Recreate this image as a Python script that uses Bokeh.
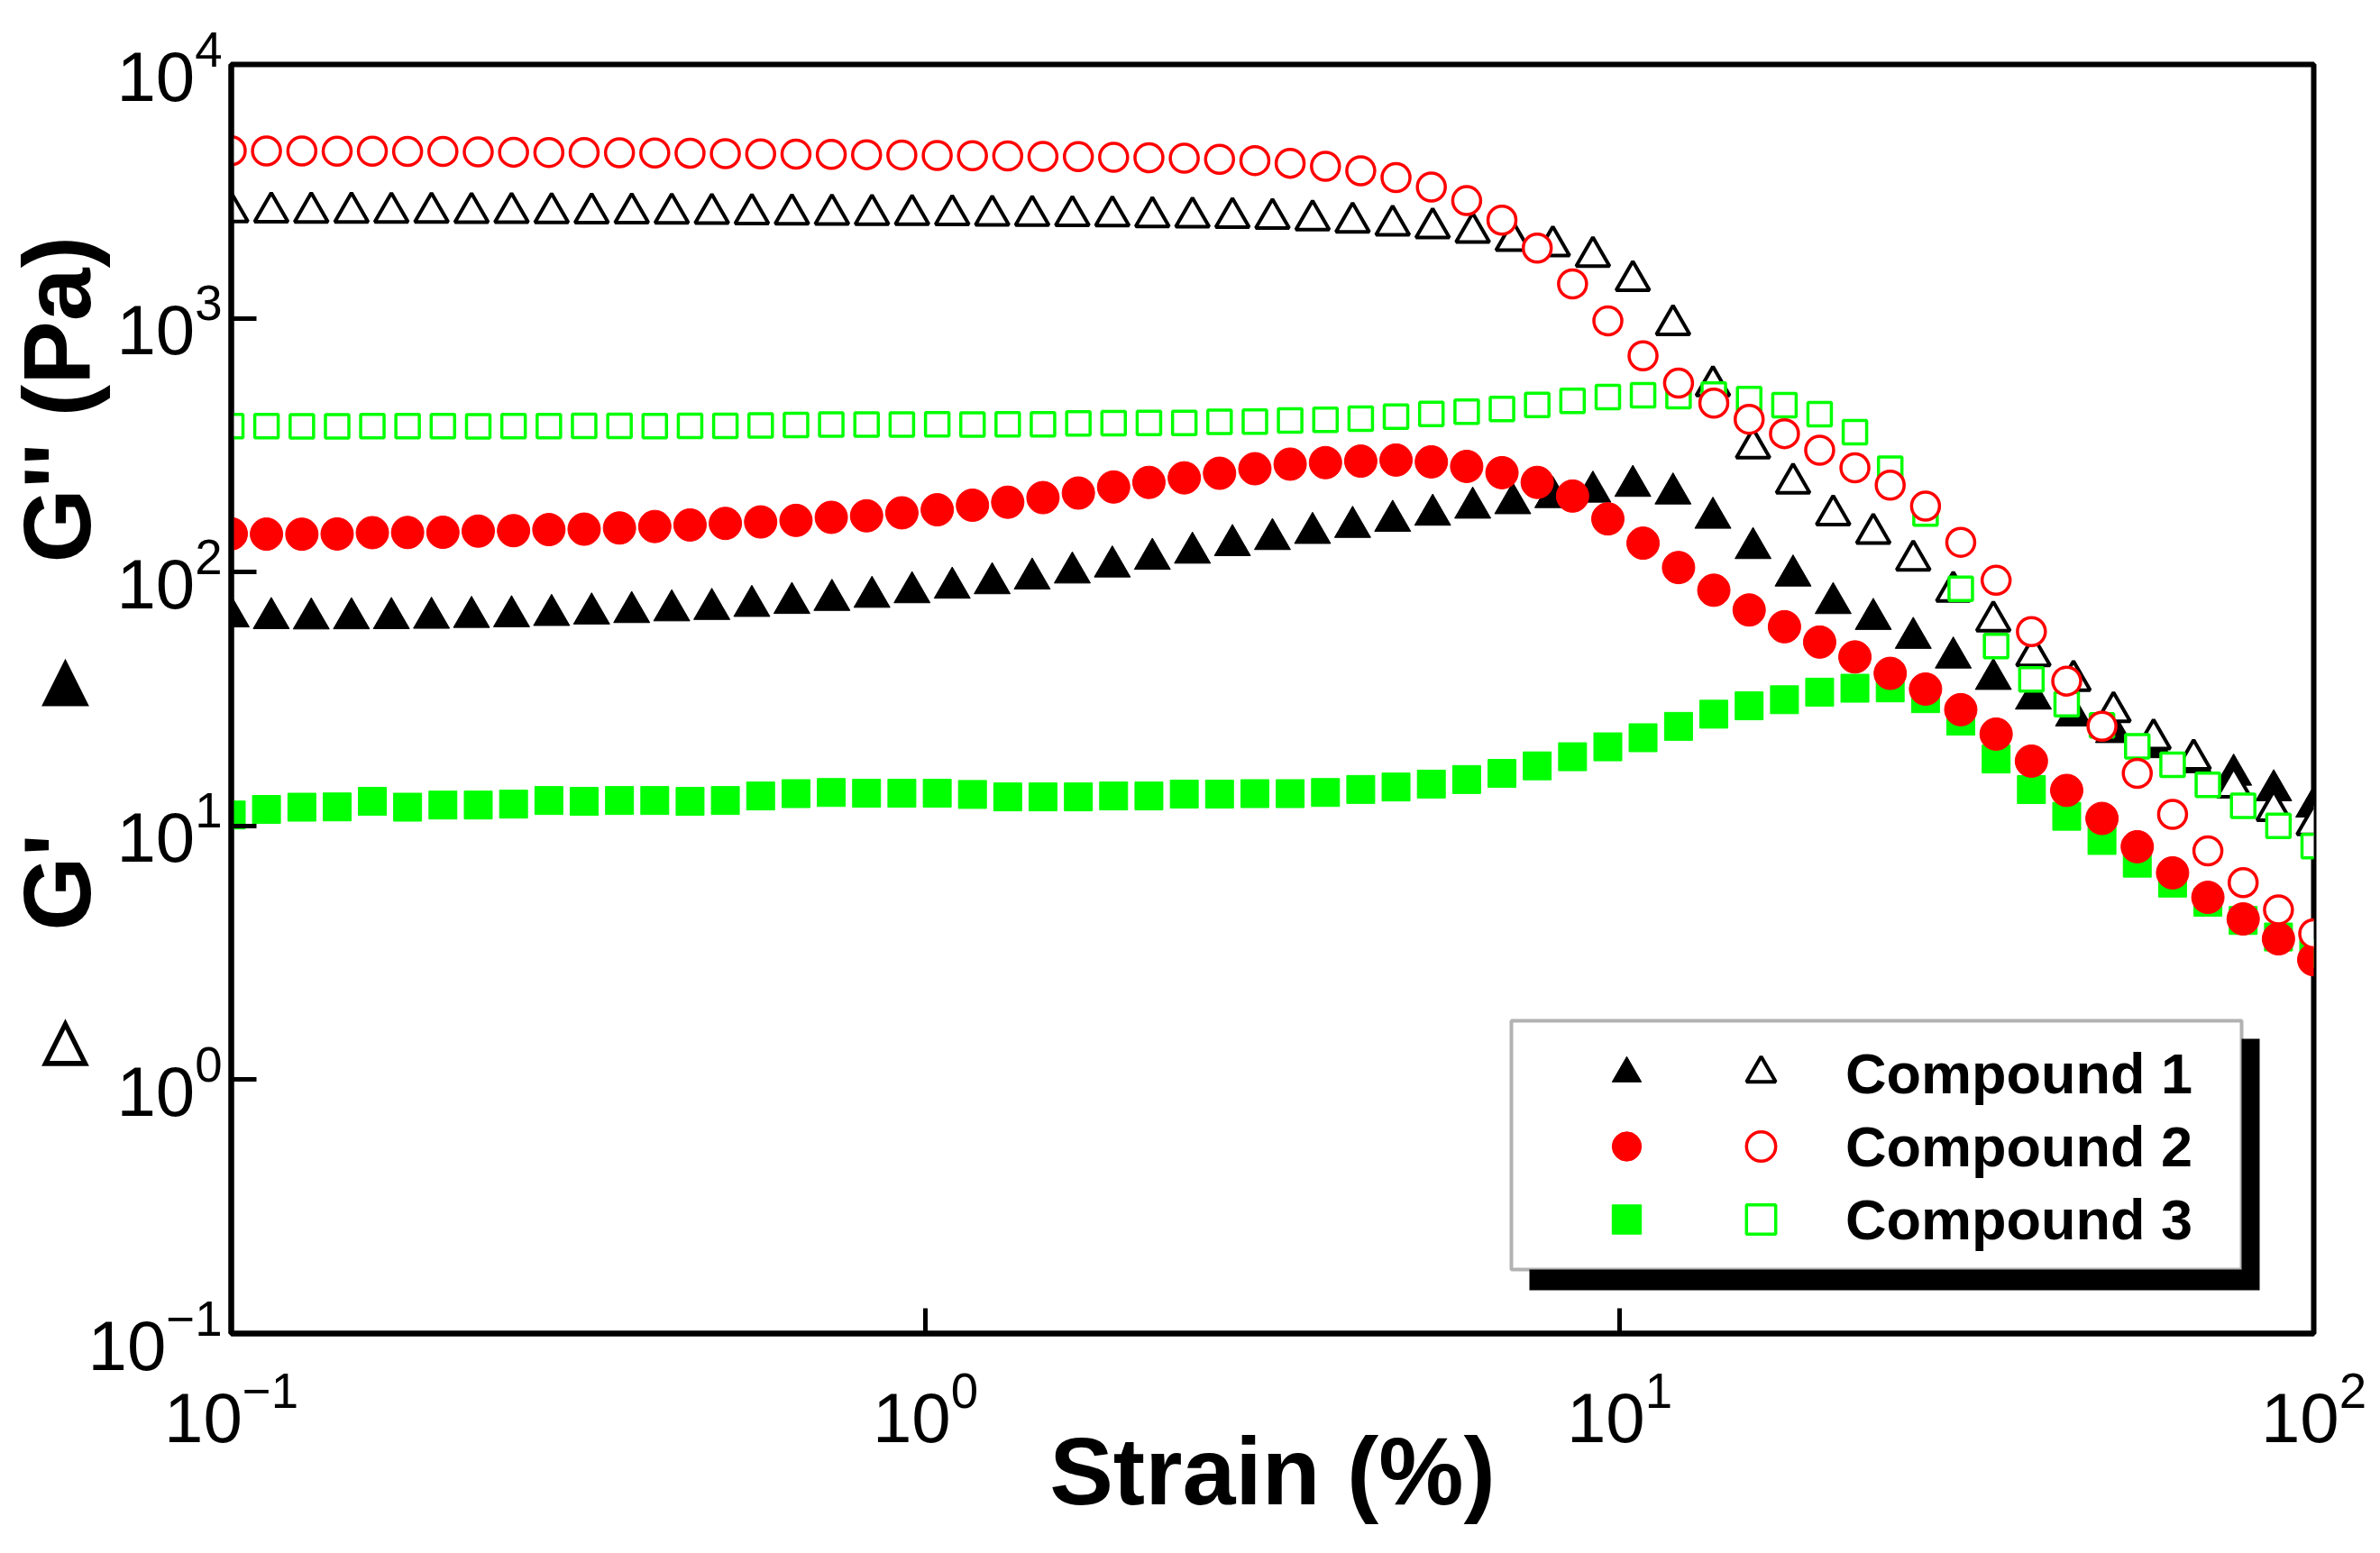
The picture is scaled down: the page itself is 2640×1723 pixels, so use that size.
from bokeh.plotting import figure
from bokeh.models import (Range1d, FixedTicker, LogTickFormatter, Legend, LegendItem,
                          BoxAnnotation)
from bokeh.embed import file_html
from bokeh.resources import INLINE

# strain sweep (%), compound 1 was measured with a coarser point density
strain_c1 = [0.1, 0.1142, 0.1304, 0.149, 0.1701, 0.1943, 0.2219, 0.2534, 0.2894, 0.3305,
             0.3775, 0.4311, 0.4924, 0.5623, 0.6422, 0.7334, 0.8376, 0.9567, 1.093, 1.248,
             1.425, 1.628, 1.859, 2.123, 2.425, 2.769, 3.162, 3.612, 4.125, 4.711,
             5.38, 6.144, 7.017, 8.014, 9.153, 10.45, 11.94, 13.63, 15.57, 17.78,
             20.31, 23.2, 26.49, 30.25, 34.55, 39.46, 45.07, 51.47, 58.78, 67.14,
             76.67, 87.57, 100]
strain_c23 = [0.1, 0.1124, 0.1264, 0.1421, 0.1597, 0.1795, 0.2018, 0.2269, 0.2551, 0.2868,
              0.3224, 0.3625, 0.4075, 0.4581, 0.515, 0.579, 0.651, 0.7318, 0.8227, 0.9249,
              1.04, 1.169, 1.314, 1.477, 1.661, 1.867, 2.099, 2.36, 2.653, 2.983,
              3.353, 3.77, 4.238, 4.764, 5.356, 6.022, 6.77, 7.61, 8.556, 9.619,
              10.81, 12.16, 13.67, 15.37, 17.28, 19.42, 21.83, 24.54, 27.59, 31.01,
              34.87, 39.2, 44.07, 49.54, 55.69, 62.61, 70.39, 79.13, 88.96, 100]

# G' (storage) and G'' (loss) moduli in Pa
g1_storage = [66.8, 65.8, 65.6, 65.7, 65.8, 66.0, 66.5, 66.9, 67.7, 68.6,
              69.5, 70.6, 71.5, 73.5, 75.5, 77.6, 79.8, 83.2, 86.7, 90.3,
              94.2, 99.5, 105.1, 112.7, 119.1, 127.6, 134.8, 142.5, 150.5, 159.1,
              168.1, 179.2, 186.6, 197.2, 207.2, 218.4, 203.8, 163.5, 124.2, 96.8,
              75.4, 65.3, 55.0, 46.0, 37.9, 31.7, 27.2, 23.4, 20.4, 17.8,
              15.9, 13.8, 11.9]
g1_loss = [2626, 2621, 2617, 2617, 2612, 2612, 2607, 2607, 2602, 2598,
           2598, 2593, 2588, 2579, 2574, 2569, 2564, 2559, 2555, 2545,
           2540, 2536, 2531, 2512, 2502, 2493, 2473, 2438, 2388, 2326,
           2270, 2178, 2025, 1929, 1751, 1406, 942, 542, 308, 224,
           168, 142, 111.4, 84.0, 64.1, 46.8, 37.4, 28.2, 22.0, 18.3,
           14.2, 11.5, 10.1]
g2_storage = [141.5, 141.1, 141.0, 141.3, 143.0, 143.2, 143.5, 145.0, 145.6, 147.0,
              147.6, 149.2, 151.2, 153.3, 155.5, 157.6, 159.8, 164.3, 166.6, 171.2,
              176.0, 183.4, 188.5, 196.5, 204.8, 216.4, 225.6, 235.1, 245.1, 255.4,
              266.2, 269.9, 273.6, 276.3, 271.8, 260.8, 246.4, 225.6, 199.3, 162.0,
              130.0, 104.2, 84.8, 70.9, 60.9, 53.0, 46.3, 39.9, 34.6, 28.7,
              23.0, 18.0, 13.8, 10.7, 8.28, 6.53, 5.23, 4.30, 3.59, 2.97]
g2_loss = [4570, 4560, 4560, 4550, 4550, 4540, 4540, 4520, 4510, 4500,
           4500, 4490, 4480, 4470, 4450, 4440, 4430, 4420, 4410, 4400,
           4380, 4370, 4360, 4340, 4330, 4310, 4290, 4270, 4230, 4180,
           4080, 3970, 3810, 3585, 3287, 2907, 2436, 1891, 1366, 977,
           711, 555, 463, 400, 351, 302, 257.5, 220, 182, 131,
           92.8, 58.3, 37.2, 24.7, 16.1, 11.1, 7.97, 5.98, 4.67, 3.76]
g3_storage = [11.04, 11.61, 11.85, 11.88, 12.49, 11.85, 12.08, 12.08, 12.18, 12.59,
              12.49, 12.59, 12.59, 12.49, 12.59, 13.12, 13.40, 13.54, 13.45, 13.45,
              13.45, 13.30, 13.01, 13.01, 13.01, 13.12, 13.12, 13.34, 13.34, 13.40,
              13.40, 13.54, 13.92, 14.23, 14.61, 15.23, 16.10, 17.24, 18.73, 20.49,
              22.25, 24.67, 27.55, 29.72, 31.41, 33.65, 34.87, 34.97, 31.71, 25.86,
              18.34, 13.90, 10.91, 8.76, 7.13, 5.95, 5.00, 4.24, 3.65, 3.14]
g3_loss = [376, 376, 375, 375, 376, 376, 376, 375, 376, 376,
           377, 377, 376, 377, 377, 378, 380, 381, 381, 381,
           382, 381, 382, 382, 385, 386, 387, 387, 391, 392,
           396, 398, 402.5, 409.8, 419.5, 428.2, 439.0, 455.7, 473.0, 489.6,
           497.7, 493.6, 500.5, 480.2, 455.1, 419.0, 355.5, 255.4, 170.0, 85.9,
           51.1, 37.8, 30.2, 24.9, 20.6, 17.4, 14.5, 12.0, 10.0, 8.33]

compounds = ["Compound 1", "Compound 2", "Compound 3"]

RED = "#ff0000"
GREEN = "#00ff00"

p = figure(frame_width=2310, frame_height=1408,
           x_axis_type="log", y_axis_type="log",
           x_range=Range1d(0.1, 100), y_range=Range1d(0.1, 10000),
           min_border_left=256, min_border_right=62, min_border_top=71, min_border_bottom=228,
           output_backend="svg", toolbar_location=None)
p.grid.visible = False
p.background_fill_color = "white"
p.outline_line_color = "black"
p.outline_line_width = 6

p.xaxis.ticker = FixedTicker(ticks=[0.1, 1, 10, 100])
p.yaxis.ticker = FixedTicker(ticks=[0.1, 1, 10, 100, 1000, 10000])
for ax in (p.xaxis[0], p.yaxis[0]):
    ax.formatter = LogTickFormatter()
    ax.axis_line_width = 6
    ax.major_tick_in = 28
    ax.major_tick_out = 0
    ax.major_tick_line_width = 5
    ax.minor_tick_in = 0
    ax.minor_tick_out = 0
    ax.major_label_text_font = "Liberation Sans Narrow, Liberation Sans"
    ax.major_label_text_font_size = "78px"
    ax.major_label_text_color = "black"
p.xaxis.major_label_standoff = 40
p.yaxis.major_label_standoff = 10

p.xaxis.axis_label = "Strain (%)"
p.xaxis.axis_label_text_font = "Liberation Sans"
p.xaxis.axis_label_text_font_style = "bold"
p.xaxis.axis_label_text_font_size = "106px"
p.xaxis.axis_label_text_color = "black"
p.xaxis.axis_label_standoff = -30

# y title: the small triangles turn upright once the label is rotated
p.yaxis.axis_label = ("\u2003\u25b9\u2002\u2004\u200aG'\u2003\u2004\u25b8\u2003G'' (Pa)")
p.yaxis.axis_label_text_font = "Liberation Sans, DejaVu Sans"
p.yaxis.axis_label_text_font_style = "bold"
p.yaxis.axis_label_text_font_size = "106px"
p.yaxis.axis_label_text_color = "black"
p.yaxis.axis_label_standoff = -28

# data: filled = G', open = G''
r1f = p.scatter(strain_c1, g1_storage, marker="triangle", size=40,
                fill_color="black", line_color="black", line_width=1)
r1o = p.scatter(strain_c1, g1_loss, marker="triangle", size=37,
                fill_color="white", line_color="black", line_width=4)
r3f = p.scatter(strain_c23, g3_storage, marker="square", size=31,
                fill_color=GREEN, line_color=GREEN, line_width=1)
r3o = p.scatter(strain_c23, g3_loss, marker="square", size=26,
                fill_color="white", line_color=GREEN, line_width=3.5)
r2f = p.scatter(strain_c23, g2_storage, marker="circle", size=36,
                fill_color=RED, line_color=RED, line_width=1)
r2o = p.scatter(strain_c23, g2_loss, marker="circle", size=31,
                fill_color="white", line_color=RED, line_width=3.5)

# legend box with drop shadow
shadow = BoxAnnotation(left=1440, right=2250, bottom=48, top=327,
                       left_units="screen", right_units="screen",
                       bottom_units="screen", top_units="screen",
                       fill_color="black", fill_alpha=1.0, line_color=None)
box = BoxAnnotation(left=1420, right=2230, bottom=71, top=347,
                    left_units="screen", right_units="screen",
                    bottom_units="screen", top_units="screen",
                    fill_color="white", fill_alpha=1.0, line_color="black", line_width=4)
p.add_layout(shadow)
p.add_layout(box)

legend_style = dict(orientation="vertical", glyph_width=100, glyph_height=81,
                    spacing=0, padding=0, margin=0,
                    border_line_color=None, background_fill_alpha=0,
                    label_text_font="Liberation Sans", label_text_font_style="bold",
                    label_text_font_size="63px", label_text_color="black")
legend_filled = Legend(items=[LegendItem(label="", renderers=[r]) for r in (r1f, r2f, r3f)],
                       location=(1498, 86), label_standoff=0, label_width=0, **legend_style)
legend_open = Legend(items=[LegendItem(label=name, renderers=[r])
                            for name, r in zip(compounds, (r1o, r2o, r3o))],
                     location=(1647, 86), label_standoff=44, **legend_style)
p.add_layout(legend_filled)
p.add_layout(legend_open)

open("out.html", "w").write(file_html(p, INLINE))
